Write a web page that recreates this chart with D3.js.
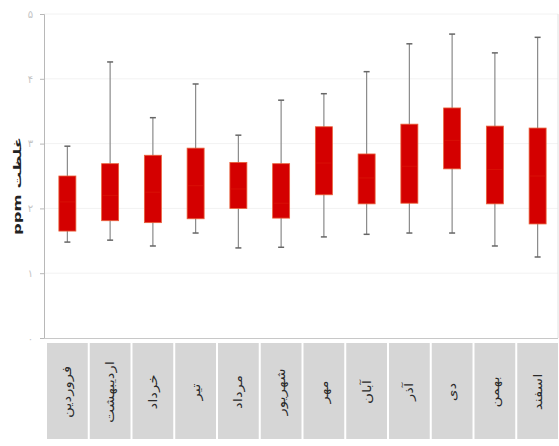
<!DOCTYPE html>
<html>
<head>
<meta charset="utf-8">
<script src="https://cdn.jsdelivr.net/npm/d3@7"></script>
<style>
  html, body { margin: 0; padding: 0; background: #fff; }
  svg { display: block; }
</style>
</head>
<body>
<svg id="chart" width="559" height="446"></svg>
<script>
const months = ["فروردین","اردیبهشت","خرداد","تیر","مرداد","شهریور","مهر","آبان","آذر","دی","بهمن","اسفند"];
const whiskerLow  = [1.48, 1.51, 1.42, 1.62, 1.39, 1.40, 1.56, 1.60, 1.62, 1.62, 1.42, 1.25];
const q1          = [1.65, 1.81, 1.78, 1.84, 2.00, 1.85, 2.21, 2.07, 2.08, 2.61, 2.07, 1.76];
const medians     = [2.10, 2.20, 2.25, 2.35, 2.30, 2.08, 2.70, 2.47, 2.65, 3.05, 2.60, 2.50];
const q3          = [2.50, 2.69, 2.82, 2.93, 2.71, 2.69, 3.26, 2.84, 3.30, 3.55, 3.27, 3.24];
const whiskerHigh = [2.96, 4.26, 3.40, 3.92, 3.13, 3.67, 3.77, 4.11, 4.54, 4.69, 4.40, 4.64];
const yTicks = [0, 1, 2, 3, 4, 5];
const yTitle = "غلظت ppm";

const svg = d3.select("#chart");
const x = d3.scaleBand().domain(months).range([46, 559]).padding(0);
const y = d3.scaleLinear().domain([0, 5]).range([338, 14]);
const fa = d => String(d).replace(/\d/g, c => "۰۱۲۳۴۵۶۷۸۹"[+c]);

// faint gridlines
svg.append("g").selectAll("line").data(yTicks.slice(1)).join("line")
  .attr("x1", 44).attr("x2", 558)
  .attr("y1", d => y(d)).attr("y2", d => y(d))
  .attr("stroke", "#f2f2f2").attr("stroke-width", 1);

// right frame
svg.append("line").attr("x1", 558).attr("x2", 558).attr("y1", y(5)).attr("y2", y(0))
  .attr("stroke", "#e2e2e2");

// y axis
const yAxis = d3.axisLeft(y).tickValues(yTicks).tickSize(4).tickFormat(fa);
const gy = svg.append("g").attr("transform", "translate(44,0)").call(yAxis);
gy.select(".domain").attr("stroke", "#b8b8b8");
gy.selectAll(".tick line").attr("stroke", "#b8b8b8");
gy.selectAll(".tick text").attr("fill", "#c4c4c4").attr("font-size", 10)
  .attr("font-family", "DejaVu Sans").attr("x", -11);

// x axis line
svg.append("line").attr("x1", 44).attr("x2", 558).attr("y1", y(0) + 0.5).attr("y2", y(0) + 0.5)
  .attr("stroke", "#c8c8c8");

// y title
svg.append("text")
  .attr("transform", `translate(21,186) rotate(-90) scale(1.65,1)`)
  .attr("text-anchor", "middle")
  .attr("font-family", "DejaVu Sans").attr("font-weight", "bold").attr("font-size", 10)
  .attr("fill", "#222")
  .attr("direction", "rtl")
  .text(yTitle);

// boxes
const bw = 17;
const g = svg.append("g");
months.forEach((m, i) => {
  const cx = x(m) + x.bandwidth() / 2;
  g.append("line").attr("x1", cx).attr("x2", cx)
    .attr("y1", y(whiskerHigh[i])).attr("y2", y(whiskerLow[i]))
    .attr("stroke", "#8a8a8a").attr("stroke-width", 1.2);
  [whiskerHigh[i], whiskerLow[i]].forEach(v => {
    g.append("line").attr("x1", cx - 3).attr("x2", cx + 3)
      .attr("y1", y(v)).attr("y2", y(v))
      .attr("stroke", "#666").attr("stroke-width", 1.5);
  });
  g.append("rect").attr("x", cx - bw / 2).attr("width", bw)
    .attr("y", y(q3[i])).attr("height", y(q1[i]) - y(q3[i]))
    .attr("fill", "#d40000").attr("stroke", "#e8603a").attr("stroke-width", 0.8);
  g.append("line").attr("x1", cx - bw / 2 + 1).attr("x2", cx + bw / 2 - 1)
    .attr("y1", y(medians[i])).attr("y2", y(medians[i]))
    .attr("stroke", "#d91408").attr("stroke-width", 0.8);
});

// category label panels
const lg = svg.append("g");
months.forEach(m => {
  lg.append("rect").attr("x", x(m) + 1).attr("width", x.bandwidth() - 2)
    .attr("y", 343).attr("height", 96).attr("fill", "#d6d6d6");
  lg.append("text")
    .attr("transform", `translate(${x(m) + x.bandwidth() / 2 + 4},392) rotate(-90) scale(1.25,1)`)
    .attr("text-anchor", "middle")
    .attr("font-family", "DejaVu Sans").attr("font-size", 12)
    .attr("fill", "#2a2a2a")
    .text(m);
});
</script>
</body>
</html>
